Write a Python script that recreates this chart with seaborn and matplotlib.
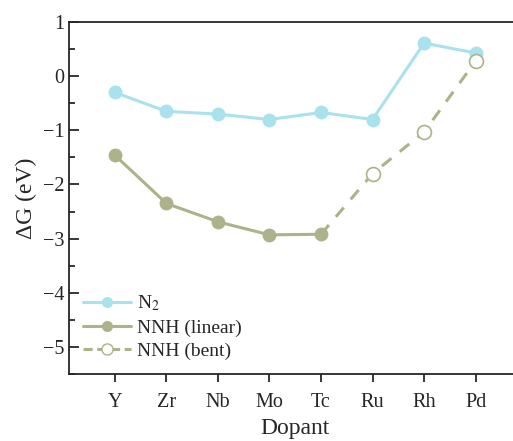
import numpy as np
import pandas as pd
import matplotlib
matplotlib.use("Agg")
import matplotlib.pyplot as plt
from matplotlib.lines import Line2D
import seaborn as sns

dopants = ["Y", "Zr", "Nb", "Mo", "Tc", "Ru", "Rh", "Pd"]
dg_n2 = [-0.30, -0.65, -0.70, -0.80, -0.67, -0.80, 0.61, 0.43]
dopants_linear = ["Y", "Zr", "Nb", "Mo", "Tc"]
dg_nnh_linear = [-1.46, -2.35, -2.69, -2.93, -2.92]
dopants_bent = ["Tc", "Ru", "Rh", "Pd"]
dg_nnh_bent = [-2.92, -1.80, -1.03, 0.28]

c_n2 = "#a9e2ec"
c_nnh = "#aeb28a"

sns.set_style("ticks")
plt.rcParams["font.family"] = ["Liberation Serif", "DejaVu Serif"]
plt.rcParams["mathtext.fontset"] = "stix"

df_n2 = pd.DataFrame({"Dopant": dopants, "dG": dg_n2})
df_lin = pd.DataFrame({"Dopant": dopants_linear, "dG": dg_nnh_linear})
df_bent = pd.DataFrame({"Dopant": dopants_bent, "dG": dg_nnh_bent})

fig = plt.figure(figsize=(5.13, 4.41), dpi=100)
ax = fig.add_axes([0.1345, 0.152, 0.882, 0.798])

sns.lineplot(data=df_n2, x="Dopant", y="dG", color=c_n2, marker="o", markersize=10,
             markeredgewidth=0, linewidth=2.2, ax=ax, sort=False)
# dashed bent path first, so the filled Tc point sits on top
sns.lineplot(data=df_bent, x="Dopant", y="dG", color=c_nnh, linewidth=2.2,
             linestyle=(0, (4, 3.5)), ax=ax, sort=False)
sns.lineplot(data=df_lin, x="Dopant", y="dG", color=c_nnh, marker="o", markersize=10,
             markeredgewidth=0, linewidth=2.2, ax=ax, sort=False)
# hollow markers on bent path (skip Tc, already drawn as filled)
ax.plot(dopants_bent[1:], dg_nnh_bent[1:], linestyle="none", marker="o", markersize=10,
        markerfacecolor="white", markeredgecolor=c_nnh, markeredgewidth=1.2)

ax.set_xlim(-0.89, 7.89)
ax.set_ylim(-5.5, 1)
ax.set_yticks([1, 0, -1, -2, -3, -4, -5])
ax.set_yticks(np.arange(-5.5, 1.0, 0.5), minor=True)
ax.tick_params(axis="y", direction="in", length=7, width=1.3, labelsize=14.5)
ax.tick_params(axis="y", which="minor", direction="in", length=4, width=1.3)
ax.tick_params(axis="x", direction="out", length=6, width=1.3, labelsize=14.5, pad=8)
for s in ax.spines.values():
    s.set_linewidth(1.3)

ax.set_xlabel("Dopant", fontsize=17, labelpad=4)
ax.set_ylabel("ΔG (eV)", fontsize=17)

handles = [
    Line2D([], [], color=c_n2, lw=2.2, marker="o", markersize=8, markeredgewidth=0),
    Line2D([], [], color=c_nnh, lw=2.2, marker="o", markersize=8, markeredgewidth=0),
    Line2D([], [], color=c_nnh, lw=2.2, linestyle=(0, (3, 1.5)), marker="o", markersize=8,
           markerfacecolor="white", markeredgecolor=c_nnh, markeredgewidth=1.0),
]
labels = [r"N$_2$", "NNH (linear)", "NNH (bent)"]
ax.legend(handles, labels, loc="lower left", frameon=False, fontsize=14, handlelength=2.5,
          handletextpad=0.3, labelspacing=0.3, borderaxespad=0.3, bbox_to_anchor=(0.0, 0.0))

plt.savefig("out.png", dpi=100)
